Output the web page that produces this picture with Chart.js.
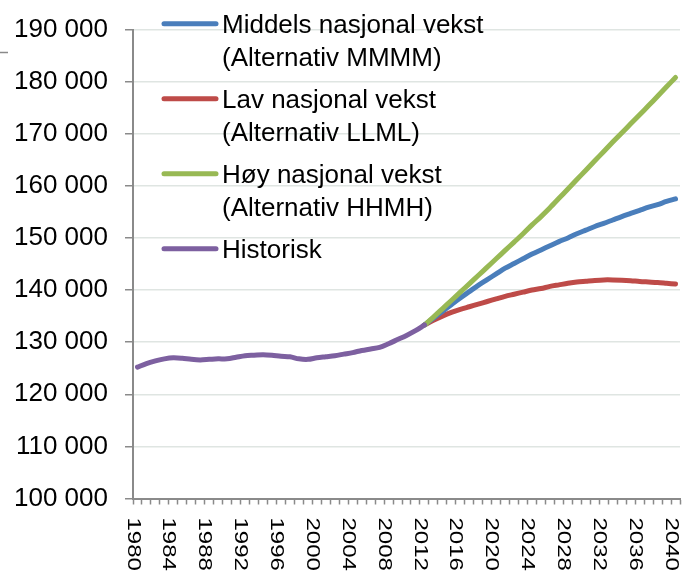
<!DOCTYPE html>
<html>
<head>
<meta charset="utf-8">
<script src="https://cdn.jsdelivr.net/npm/chart.js@4/dist/chart.umd.min.js"></script>
<style>
html,body{margin:0;padding:0;background:#fff;}
#wrap{width:685px;height:574px;}
</style>
</head>
<body>
<div id="wrap"><canvas id="c" width="685" height="574"></canvas></div>
<script>
const years = ['1980','1981','1982','1983','1984','1985','1986','1987','1988','1989',
  '1990','1991','1992','1993','1994','1995','1996','1997','1998','1999',
  '2000','2001','2002','2003','2004','2005','2006','2007','2008','2009',
  '2010','2011','2012','2013','2014','2015','2016','2017','2018','2019',
  '2020','2021','2022','2023','2024','2025','2026','2027','2028','2029',
  '2030','2031','2032','2033','2034','2035','2036','2037','2038','2039','2040'];
const labelledYears = ['1980','1984','1988','1992','1996','2000','2004','2008','2012','2016','2020','2024','2028','2032','2036','2040'];

const histYears = ['1980','1981','1982','1983','1984','1985','1986','1987','1988','1989',
  '1990','1991','1992','1993','1994','1995','1996','1997','1998','1999',
  '2000','2001','2002','2003','2004','2005','2006','2007','2008','2009',
  '2010','2011','2012'];
const historisk = [125200,125900,126400,126800,127000,126900,126700,126600,126700,126800,
  126800,127100,127400,127500,127600,127500,127300,127200,126800,126700,
  127000,127200,127400,127700,128000,128400,128700,129000,129700,130500,
  131300,132200,133300];

const projYears = ['2012','2013','2014','2015','2016','2017','2018','2019','2020','2021',
  '2022','2023','2024','2025','2026','2027','2028','2029','2030','2031',
  '2032','2033','2034','2035','2036','2037','2038','2039','2040'];
const middels = [133300,134600,135900,137200,138500,139700,140900,142000,143100,144200,
  145100,146000,146900,147700,148500,149300,150000,150800,151500,152200,
  152800,153450,154100,154700,155300,155900,156400,157000,157500];
const lav = [133300,134200,135000,135700,136300,136800,137300,137800,138300,138800,
  139200,139600,140000,140300,140700,141000,141300,141550,141700,141850,
  141950,141950,141900,141800,141650,141550,141450,141300,141150];
const hoy = [133300,134800,136400,138000,139600,141200,142800,144400,146000,147600,
  149200,150800,152500,154100,155800,157600,159400,161200,163000,164800,
  166600,168400,170150,171900,173650,175400,177200,179000,180800];

const seriesLabels = [
  ['Middels nasjonal vekst', '(Alternativ MMMM)'],
  ['Lav nasjonal vekst', '(Alternativ LLML)'],
  ['Høy nasjonal vekst', '(Alternativ HHMH)'],
  ['Historisk']
];
const seriesColors = ['#4a7ebb', '#be4b48', '#98b954', '#7d60a0'];

const FONT = "'Liberation Sans', Arial, Helvetica, sans-serif";

function pts(xs, vs) { return xs.map((x, i) => ({ x: x, y: vs[i] })); }

const datasets = [
  { label: seriesLabels[0].join(' '), data: pts(projYears, middels), borderColor: seriesColors[0], order: 2 },
  { label: seriesLabels[1].join(' '), data: pts(projYears, lav), borderColor: seriesColors[1], order: 3 },
  { label: seriesLabels[2].join(' '), data: pts(projYears, hoy), borderColor: seriesColors[2], order: 1 },
  { label: seriesLabels[3].join(' '), data: pts(histYears, historisk), borderColor: seriesColors[3], order: 0 }
].map(d => Object.assign(d, {
  borderWidth: 5, pointRadius: 0, pointHoverRadius: 0, tension: 0.3,
  borderCapStyle: 'round', borderJoinStyle: 'round', fill: false
}));

const customDraw = {
  id: 'customDraw',
  afterDraw(chart) {
    const ctx = chart.ctx;
    const xs = chart.scales.x;
    // small stray tick at top-left as in the reference
    ctx.save();
    ctx.strokeStyle = '#8a8a8a';
    ctx.lineWidth = 1.5;
    ctx.beginPath();
    ctx.moveTo(0, 52.5);
    ctx.lineTo(8, 52.5);
    ctx.stroke();
    ctx.restore();

    // rotated x labels (reading top to bottom)
    ctx.save();
    ctx.fillStyle = '#000';
    ctx.font = '24px ' + FONT;
    ctx.textAlign = 'left';
    ctx.textBaseline = 'alphabetic';
    labelledYears.forEach(yr => {
      const idx = years.indexOf(yr);
      const px = xs.getPixelForValue(idx) - 3.5;
      const sc = 0.74;
      const h = 17.2 * sc;
      ctx.save();
      ctx.translate(px - h / 2, xs.top + 19);
      ctx.rotate(Math.PI / 2);
      ctx.scale(1, sc);
      ctx.fillText(yr, 0, 0);
      ctx.restore();
    });
    ctx.restore();

    // legend
    ctx.save();
    ctx.font = '26px ' + FONT;
    ctx.fillStyle = '#000';
    ctx.textAlign = 'left';
    ctx.textBaseline = 'alphabetic';
    const baseTop = 33, itemGap = 75, lineGap = 33;
    seriesLabels.forEach((lines, i) => {
      const b = baseTop + i * itemGap;
      const ly = b - 9.3;
      ctx.strokeStyle = seriesColors[i];
      ctx.lineWidth = 5;
      ctx.lineCap = 'round';
      ctx.beginPath();
      ctx.moveTo(164, ly);
      ctx.lineTo(216, ly);
      ctx.stroke();
      lines.forEach((t, j) => ctx.fillText(t, 222, b + j * lineGap));
    });
    ctx.restore();
  }
};

new Chart(document.getElementById('c'), {
  type: 'line',
  data: { labels: years, datasets: datasets },
  options: {
    responsive: false,
    animation: false,
    events: [],
    layout: { padding: { top: 29.5, right: 5, left: 0, bottom: 0 } },
    plugins: { legend: { display: false }, tooltip: { enabled: false } },
    scales: {
      x: {
        type: 'category',
        offset: true,
        grid: { offset: true, drawOnChartArea: false, drawTicks: true, tickLength: 6, tickColor: '#8a8a8a', tickWidth: 1.5 },
        border: { display: true, color: '#8a8a8a', width: 2 },
        ticks: { display: false, autoSkip: false },
        afterFit(s) { s.height = 75.5; }
      },
      y: {
        min: 100000, max: 190000,
        grid: { color: '#dfe5e2', lineWidth: 1.5, drawTicks: true, tickLength: 8, tickColor: '#8a8a8a', tickWidth: 1.5 },
        border: { display: true, color: '#8a8a8a', width: 2 },
        ticks: {
          stepSize: 10000, padding: 17, color: '#000',
          font: { size: 26, family: FONT },
          callback: v => Math.round(v / 1000) + ' 000'
        },
        afterFit(s) { s.width = 133; s.paddingTop = 0; s.paddingBottom = 0; }
      }
    }
  },
  plugins: [customDraw]
});
</script>
</body>
</html>
